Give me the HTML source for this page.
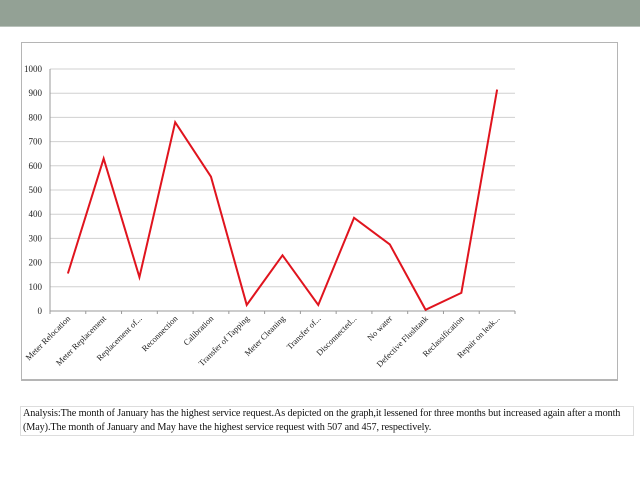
<!DOCTYPE html>
<html><head><meta charset="utf-8"><style>
body{margin:0;width:640px;height:480px;background:#fff;overflow:hidden;position:relative;font-family:"Liberation Serif",serif}
#band{position:absolute;left:0;top:0;width:640px;height:26px;background:#93a195;border-bottom:1px solid #b9c2bb}
#box{position:absolute;left:21px;top:42px;width:595px;height:336px;border:1px solid #b5b5b5;border-bottom-width:2px}
#analysis{position:absolute;left:20px;top:406px;width:608px;height:28px;border:1px solid #ddd;font-size:10.2px;line-height:14px;padding:0 2px;color:#111;letter-spacing:-0.1px}
</style></head><body>
<div id="band"></div>
<div id="box"></div>
<svg id="chart" width="640" height="480" style="position:absolute;left:0;top:0"></svg>
<div id="analysis">Analysis:The month of January has the highest service request.As depicted on the graph,it lessened for three months but increased again after a month (May).The month of January and May have the highest service request with 507 and 457, respectively.</div>
<script>
const categories=["Meter Relocation","Meter Replacement","Replacement of...","Reconnection","Calibration","Transfer of Tapping","Meter Cleaning","Transfer of...","Disconnected...","No water","Defective Flushtank","Reclassification","Repair on leak..."];
const values=[155,630,140,780,555,25,230,25,385,275,5,75,915];
const yTicks=[0,100,200,300,400,500,600,700,800,900,1000];
const svg=document.getElementById('chart');
const NS='http://www.w3.org/2000/svg';
const L=50,R=515,T=69,B=311;
const y=v=>B-(v/1000)*(B-T);
const bw=(R-L)/categories.length;
const x=i=>L+bw*(i+0.5);
function mk(t,a){const e=document.createElementNS(NS,t);for(const k in a)e.setAttribute(k,a[k]);svg.appendChild(e);return e;}
yTicks.forEach(v=>{
 const g=mk('line',{x1:L,x2:R,y1:y(v),y2:y(v),stroke:v?'#d0d0d0':'#999','stroke-width':1});
 
 
 const t=mk('text',{x:L-8,y:y(v)+3,'text-anchor':'end','font-size':9,'font-family':'Liberation Serif, serif',fill:'#222'});
 t.textContent=v;
 
 
});
const ax=mk('line',{x1:L,x2:L,y1:T,y2:B,stroke:'#999'});


for(let i=0;i<=categories.length;i++){
 const tk=mk('line',{x1:L+bw*i,x2:L+bw*i,y1:B,y2:B+3,stroke:'#999'});
 
 
}
categories.forEach((c,i)=>{
 const t=mk('text',{x:x(i)+3,y:B+8,'text-anchor':'end','font-size':8.5,'font-family':'Liberation Serif, serif',fill:'#222',transform:`rotate(-45 ${x(i)+3} ${B+8})`});
 t.textContent=c;
 
 
});
const p=mk('polyline',{points:values.map((v,i)=>x(i)+','+y(v)).join(' '),fill:'none',stroke:'#e0141e','stroke-width':2});


</script>
</body></html>
